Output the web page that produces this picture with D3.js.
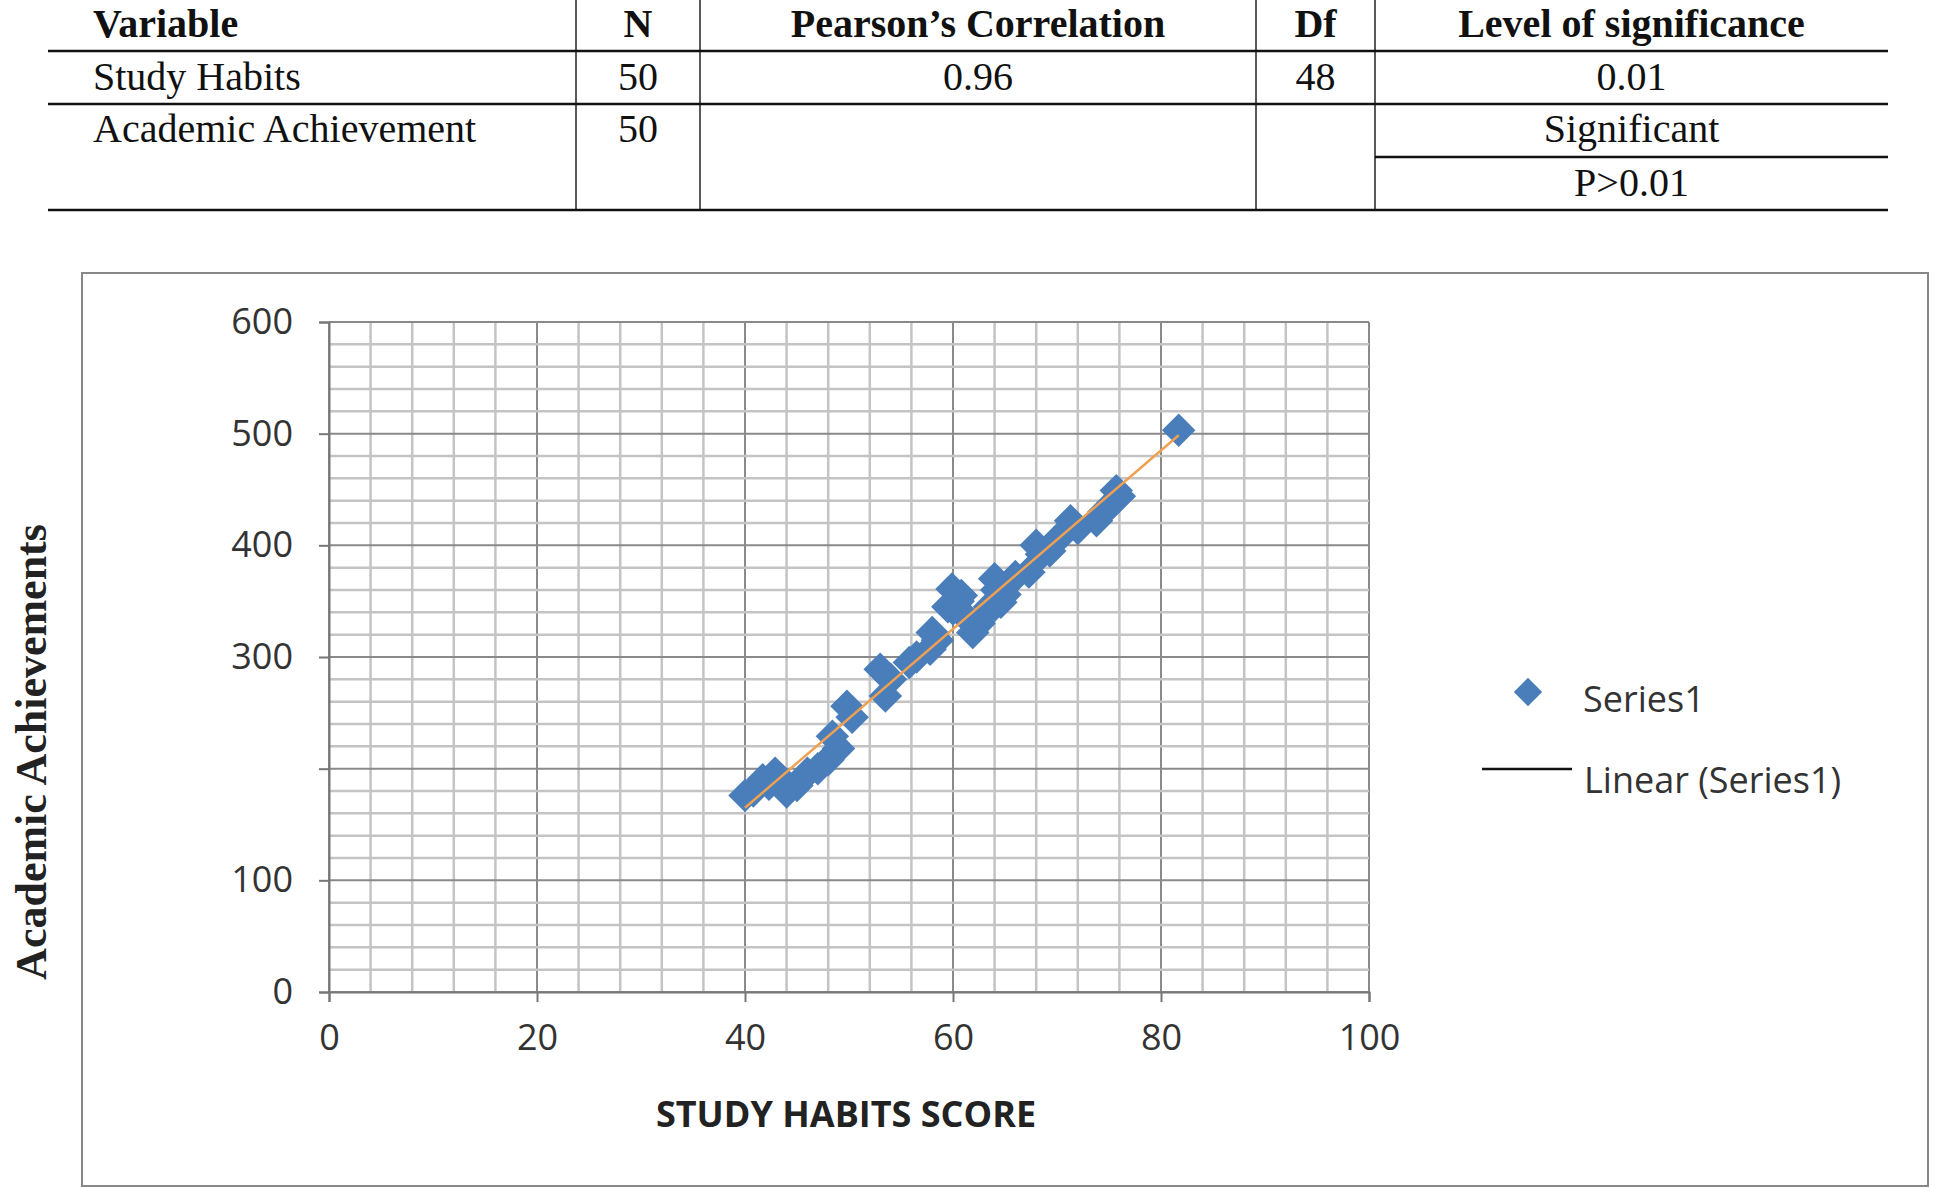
<!DOCTYPE html>
<html>
<head>
<meta charset="utf-8">
<script src="https://cdn.jsdelivr.net/npm/d3@7/dist/d3.min.js"></script>
<style>
  body { margin: 0; background: #fff; }
</style>
</head>
<body>
<svg id="chart" width="1935" height="1188"></svg>
<script>
// table content
const tableHeaders = ["Variable", "N", "Pearson\u2019s Correlation", "Df", "Level of significance"];
const tableRow1 = ["Study Habits", "50", "0.96", "48", "0.01"];
const tableRow2 = ["Academic Achievement", "50", "", "", "Significant"];
const tableRow3 = ["", "", "", "", "P>0.01"];

// scatter data
const studyHabits = [40, 40.8, 41.7, 42.3, 42.9, 43.5, 44, 45, 46, 47, 48, 48.4, 49, 49.8, 50.3,
  53, 53.5, 54, 55.8, 56.5, 57.8, 58, 58.5, 59.5, 59.9, 60, 60.5, 61, 61.9, 62.5,
  63, 63.5, 64, 64.6, 65, 66, 67.3, 68, 68.5, 69.3, 70, 71.3, 72, 73.8, 74.5, 75.7, 76, 64.2, 60.8, 81.7];
const achievement = [176, 180, 190, 186, 196, 190, 179, 185, 196, 200, 208, 229, 218, 256, 246,
  289, 265, 280, 295, 300, 307, 322, 315, 345, 361, 343, 350, 338, 322, 330,
  337, 345, 370, 349, 356, 372, 376, 400, 392, 395, 405, 422, 415, 422, 430, 449, 444, 360, 355, 503];
const xTicks = [0, 20, 40, 60, 80, 100];
const yTicks = [0, 100, 200, 300, 400, 500, 600];
const yTickLabels = ["0", "100", "", "300", "400", "500", "600"];

const svg = d3.select("#chart");

// ---- table ----
const colX = [48, 576, 700, 1256, 1375, 1888];
const serif = "'Liberation Serif', 'DejaVu Serif', serif";
const tbl = svg.append("g").attr("font-family", serif).attr("font-size", 40).attr("fill", "#111");

colX.slice(1, 5).forEach(x => {
  tbl.append("line").attr("x1", x).attr("x2", x).attr("y1", 0).attr("y2", 210)
    .attr("stroke", "#222").attr("stroke-width", 1.5);
});
[51, 104, 210].forEach(y => {
  tbl.append("line").attr("x1", 48).attr("x2", 1888).attr("y1", y).attr("y2", y)
    .attr("stroke", "#111").attr("stroke-width", 2.5);
});
tbl.append("line").attr("x1", 1375).attr("x2", 1888).attr("y1", 157).attr("y2", 157)
  .attr("stroke", "#111").attr("stroke-width", 2.5);

function cellText(row, y, bold) {
  row.forEach((t, i) => {
    if (!t) return;
    const left = i === 0;
    tbl.append("text")
      .attr("x", left ? 93 : (colX[i] + colX[i + 1]) / 2)
      .attr("y", y)
      .attr("text-anchor", left ? "start" : "middle")
      .attr("font-weight", bold ? "bold" : "normal")
      .text(t);
  });
}
cellText(tableHeaders, 37, true);
cellText(tableRow1, 90, false);
cellText(tableRow2, 142, false);
cellText(tableRow3, 196, false);

// ---- chart frame ----
svg.append("rect").attr("x", 82).attr("y", 273).attr("width", 1846).attr("height", 913)
  .attr("fill", "none").attr("stroke", "#888").attr("stroke-width", 2);

const x = d3.scaleLinear().domain([0, 100]).range([329, 1369]);
const y = d3.scaleLinear().domain([0, 600]).range([992, 322]);

const grid = svg.append("g");
d3.range(0, 101, 4).forEach(v => {
  grid.append("line").attr("x1", x(v)).attr("x2", x(v)).attr("y1", y(0)).attr("y2", y(600))
    .attr("stroke", v % 20 === 0 ? "#8a8a8a" : "#c4c4c4").attr("stroke-width", v % 20 === 0 ? 2 : 2.5);
});
d3.range(0, 601, 20).forEach(v => {
  grid.append("line").attr("x1", x(0)).attr("x2", x(100)).attr("y1", y(v)).attr("y2", y(v))
    .attr("stroke", v % 100 === 0 ? "#8a8a8a" : "#c4c4c4").attr("stroke-width", v % 100 === 0 ? 2 : 2.5);
});

const sans = "'Open Sans', 'Liberation Sans', sans-serif";
const xAxis = svg.append("g").attr("transform", `translate(0,${y(0)})`)
  .call(d3.axisBottom(x).tickValues(xTicks).tickSize(10).tickPadding(22));
const yAxis = svg.append("g").attr("transform", `translate(${x(0)},0)`)
  .call(d3.axisLeft(y).tickValues(yTicks).tickFormat((d, i) => yTickLabels[i]).tickSize(10).tickPadding(26));
[xAxis, yAxis].forEach(a => {
  a.select(".domain").attr("stroke", "#777").attr("stroke-width", 2);
  a.selectAll(".tick line").attr("stroke", "#777").attr("stroke-width", 2);
  a.selectAll("text").attr("font-family", sans).attr("font-size", 36).attr("fill", "#333");
});

// trend line (least squares)
const mx = d3.mean(studyHabits), my = d3.mean(achievement);
const slope = d3.sum(studyHabits, (v, i) => (v - mx) * (achievement[i] - my)) /
  d3.sum(studyHabits, v => (v - mx) * (v - mx));
const icpt = my - slope * mx;
const [x0, x1] = d3.extent(studyHabits);

// points
const diamond = d3.symbol().type(d3.symbolSquare).size(560);
svg.append("g").selectAll("path").data(studyHabits).join("path")
  .attr("d", diamond)
  .attr("transform", (d, i) => `translate(${x(d)},${y(achievement[i])}) rotate(45)`)
  .attr("fill", "#4a7ebb");

svg.append("line")
  .attr("x1", x(x0)).attr("y1", y(slope * x0 + icpt))
  .attr("x2", x(x1)).attr("y2", y(slope * x1 + icpt))
  .attr("stroke", "#f0a050").attr("stroke-width", 2.5);

// titles
svg.append("text").attr("x", 846).attr("y", 1127).attr("text-anchor", "middle")
  .attr("font-family", sans).attr("font-weight", "bold").attr("font-size", 36).attr("fill", "#222")
  .text("STUDY HABITS SCORE");
svg.append("text").attr("transform", "translate(46,752) rotate(-90)").attr("text-anchor", "middle")
  .attr("font-family", serif).attr("font-weight", "bold").attr("font-size", 44).attr("fill", "#222")
  .text("Academic Achievements");

// legend
svg.append("path").attr("d", d3.symbol().type(d3.symbolSquare).size(400)).attr("transform", "translate(1528,692) rotate(45)").attr("fill", "#4a7ebb");
svg.append("text").attr("x", 1583).attr("y", 712).attr("font-family", sans).attr("font-size", 36).attr("fill", "#333").text("Series1");
svg.append("line").attr("x1", 1482).attr("x2", 1572).attr("y1", 769).attr("y2", 769).attr("stroke", "#111").attr("stroke-width", 2.5);
svg.append("text").attr("x", 1584).attr("y", 793).attr("font-family", sans).attr("font-size", 36).attr("fill", "#333").text("Linear (Series1)");
</script>
</body>
</html>
